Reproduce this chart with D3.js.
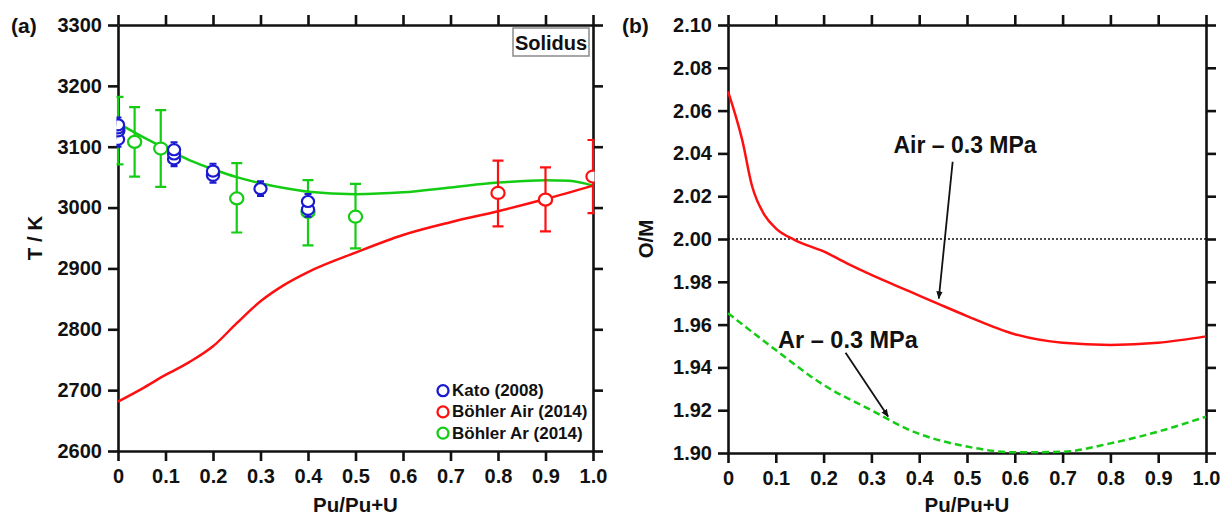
<!DOCTYPE html>
<html><head><meta charset="utf-8">
<script src="https://cdnjs.cloudflare.com/ajax/libs/d3/7.8.5/d3.min.js"></script>
<style>
html,body{margin:0;padding:0;background:#fff;}
svg{display:block;}
text{font-family:"Liberation Sans",Arial,sans-serif;font-weight:bold;fill:#111;}
</style></head>
<body>
<svg id="chart" width="1230" height="516"></svg>
<script>
// ---------- shared ticks ----------
const xTicks = [0,0.1,0.2,0.3,0.4,0.5,0.6,0.7,0.8,0.9,1.0];
const xTickLabels = ["0","0.1","0.2","0.3","0.4","0.5","0.6","0.7","0.8","0.9","1.0"];
const aYTicks = [2600,2700,2800,2900,3000,3100,3200,3300];
const bYTicks = [1.90,1.92,1.94,1.96,1.98,2.00,2.02,2.04,2.06,2.08,2.10];
const bYTickLabels = ["1.90","1.92","1.94","1.96","1.98","2.00","2.02","2.04","2.06","2.08","2.10"];

// ---------- panel (a) data ----------
const aArCurveX  = [0,0.05,0.1,0.15,0.2,0.25,0.3,0.35,0.4,0.5,0.6,0.7,0.8,0.9,0.95,1.0];
const aArCurveT  = [3139,3117,3097,3078,3063,3050,3040,3032,3026,3022,3025,3033,3041,3045,3044,3036];
const aAirCurveX = [0,0.05,0.1,0.15,0.2,0.25,0.3,0.35,0.4,0.5,0.6,0.7,0.8,0.9,1.0];
const aAirCurveT = [2681,2702,2725,2746,2772,2810,2846,2873,2894,2926,2955,2976,2994,3014,3036];

const katoX  = [0,0,0,0,0.118,0.118,0.118,0.2,0.2,0.3,0.4,0.4];
const katoT  = [3112,3126,3131,3136,3080,3088,3095,3053,3060,3031,2997,3010];
const katoErr = [12,12,12,12,12,12,12,12,12,12,12,12];

const arX   = [0,0.035,0.09,0.25,0.4,0.5];
const arT   = [3127,3108,3097,3015,2993,2985];
const arLo  = [3071,3051,3034,2959,2938,2933];
const arHi  = [3182,3165,3160,3073,3045,3039];

const airX  = [0.8,0.9,1.0];
const airT  = [3024,3013,3051];
const airLo = [2969,2961,2991];
const airHi = [3077,3066,3111];

const legendLabels = ["Kato (2008)","Böhler Air (2014)","Böhler Ar (2014)"];

// ---------- panel (b) data ----------
const bAirX  = [0,0.03,0.05,0.077,0.1,0.14,0.2,0.25,0.3,0.38,0.44,0.5,0.6,0.7,0.8,0.9,1.0];
const bAirOM = [2.069,2.046,2.025,2.011,2.005,1.9995,1.9942,1.9885,1.9832,1.9755,1.9697,1.964,1.9555,1.9515,1.9505,1.9515,1.9545];
const bArX   = [0,0.1,0.2,0.3,0.38,0.5,0.6,0.7,0.8,0.9,1.0];
const bArOM  = [1.9653,1.9481,1.9318,1.920,1.9107,1.903,1.9003,1.9006,1.9045,1.910,1.917];

// ---------- colours ----------
const RED = "#ff1010", GREEN = "#15cc15", BLUE = "#1a1ad0";

const svg = d3.select("#chart");
svg.append("rect").attr("width",1230).attr("height",516).attr("fill","#fff");

const defs = svg.append("defs");
defs.append("marker").attr("id","arrow").attr("markerUnits","userSpaceOnUse")
  .attr("viewBox","0 0 10 10").attr("refX",9).attr("refY",5)
  .attr("markerWidth",8).attr("markerHeight",8).attr("orient","auto")
  .append("path").attr("d","M0,1 L10,5 L0,9 Z").attr("fill","#111");

function makePanel(opt){
  const g = svg.append("g").attr("transform",`translate(${opt.left},${opt.top})`);
  const w = opt.right-opt.left, h = opt.bottom-opt.top;
  const x = d3.scaleLinear().domain([0,1]).range([0,w]);
  const y = d3.scaleLinear().domain(opt.yDomain).range([h,0]);
  const styleAxis = sel => {
    sel.select(".domain").attr("stroke","#111").attr("stroke-width",2.6);
    sel.selectAll(".tick line").attr("stroke","#111").attr("stroke-width",2.6);
    sel.selectAll(".tick text").style("font-size","20px").style("font-weight","bold")
      .style("font-family","'Liberation Sans',Arial,sans-serif").attr("fill","#111");
  };
  g.append("g").attr("transform",`translate(0,${h})`)
    .call(d3.axisBottom(x).tickValues(xTicks).tickFormat((d,i)=>xTickLabels[i]).tickSize(10).tickSizeOuter(0).tickPadding(8))
    .call(styleAxis);
  g.append("g")
    .call(d3.axisTop(x).tickValues(xTicks).tickFormat("").tickSize(10).tickSizeOuter(0))
    .call(styleAxis);
  g.append("g")
    .call(d3.axisLeft(y).tickValues(opt.yTicks).tickFormat((d,i)=>opt.yLabels[i]).tickSize(10).tickSizeOuter(0).tickPadding(6))
    .call(styleAxis);
  g.append("g").attr("transform",`translate(${w},0)`)
    .call(d3.axisRight(y).tickValues(opt.yTicks).tickFormat("").tickSize(10).tickSizeOuter(0))
    .call(styleAxis);
  // axis titles
  svg.append("text").attr("x",opt.left+w/2).attr("y",512).attr("text-anchor","middle")
    .style("font-size","20.5px").text("Pu/Pu+U");
  g.append("text").attr("transform",`translate(${opt.yTitleX},${h/2}) rotate(-90)`)
    .attr("text-anchor","middle").attr("dominant-baseline","central")
    .style("font-size","20.5px").text(opt.yTitle);
  svg.append("text").attr("x",opt.tagX).attr("y",33).style("font-size","21px").text(opt.tag);
  const clipId = "clip"+opt.tag.replace(/\W/g,"");
  defs.append("clipPath").attr("id",clipId).append("rect")
    .attr("x",-1.5).attr("y",-1.5).attr("width",w+3).attr("height",h+3);
  const data = g.append("g").attr("clip-path",`url(#${clipId})`);
  return {g,data,x,y,w,h};
}

// ---------- panel (a) ----------
const A = makePanel({left:118,right:593,top:25,bottom:451,yDomain:[2600,3300],
  yTicks:aYTicks,yLabels:aYTicks.map(String),yTitle:"T / K",yTitleX:-84,tag:"(a)",tagX:11});

const lineA = d3.line().curve(d3.curveMonotoneX).x(d=>A.x(d[0])).y(d=>A.y(d[1]));
A.data.append("path").datum(aArCurveX.map((v,i)=>[v,aArCurveT[i]]))
  .attr("d",lineA).attr("fill","none").attr("stroke",GREEN).attr("stroke-width",2.5);
A.data.append("path").datum(aAirCurveX.map((v,i)=>[v,aAirCurveT[i]]))
  .attr("d",lineA).attr("fill","none").attr("stroke",RED).attr("stroke-width",2.5);

function errPoints(panel, xs, ys, lo, hi, color, capHalf, r){
  const grp = panel.data.append("g");
  xs.forEach((xv,i)=>{
    const cx = panel.x(xv);
    grp.append("line").attr("x1",cx).attr("x2",cx).attr("y1",panel.y(lo[i])).attr("y2",panel.y(hi[i]))
      .attr("stroke",color).attr("stroke-width",2.2);
    [lo[i],hi[i]].forEach(v=>{
      grp.append("line").attr("x1",cx-capHalf).attr("x2",cx+capHalf).attr("y1",panel.y(v)).attr("y2",panel.y(v))
        .attr("stroke",color).attr("stroke-width",2.2);
    });
  });
  xs.forEach((xv,i)=>{
    grp.append("ellipse").attr("cx",panel.x(xv)).attr("cy",panel.y(ys[i])).attr("rx",r+0.6).attr("ry",r)
      .attr("fill","#fff").attr("stroke",color).attr("stroke-width",2.2);
  });
}
errPoints(A, arX, arT, arLo, arHi, GREEN, 5.5, 6);
errPoints(A, airX, airT, airLo, airHi, RED, 5.5, 6);
errPoints(A, katoX, katoT, katoT.map((v,i)=>v-katoErr[i]), katoT.map((v,i)=>v+katoErr[i]), BLUE, 3.5, 5.5);

// Solidus box
A.g.append("rect").attr("x",395).attr("y",3).attr("width",76).attr("height",28)
  .attr("fill","#fff").attr("stroke","#8a8a8a").attr("stroke-width",1.5);
A.g.append("text").attr("x",433).attr("y",24.5).attr("text-anchor","middle")
  .style("font-size","20px").text("Solidus");

// legend
const legColors = [BLUE, RED, GREEN];
legendLabels.forEach((lab,i)=>{
  const ly = 390.7 + i*21.2;
  svg.append("circle").attr("cx",443).attr("cy",ly).attr("r",5.5)
    .attr("fill","#fff").attr("stroke",legColors[i]).attr("stroke-width",2.3);
  svg.append("text").attr("x",452).attr("y",ly).attr("dominant-baseline","central")
    .style("font-size","17px").text(lab);
});

// ---------- panel (b) ----------
const B = makePanel({left:728,right:1206,top:25,bottom:453,yDomain:[1.90,2.10],
  yTicks:bYTicks,yLabels:bYTickLabels,yTitle:"O/M",yTitleX:-83,tag:"(b)",tagX:622});

B.data.append("line").attr("x1",0).attr("x2",B.w).attr("y1",B.y(2.0)).attr("y2",B.y(2.0))
  .attr("stroke","#111").attr("stroke-width",1.6).attr("stroke-dasharray","2,2");

const lineB = d3.line().curve(d3.curveMonotoneX).x(d=>B.x(d[0])).y(d=>B.y(d[1]));
B.data.append("path").datum(bAirX.map((v,i)=>[v,bAirOM[i]]))
  .attr("d",lineB).attr("fill","none").attr("stroke",RED).attr("stroke-width",2.5);
B.data.append("path").datum(bArX.map((v,i)=>[v,bArOM[i]]))
  .attr("d",lineB).attr("fill","none").attr("stroke",GREEN).attr("stroke-width",2.5)
  .attr("stroke-dasharray","7,4");

// annotations
B.g.append("text").attr("x",B.x(0.496)).attr("y",B.y(2.040)).attr("text-anchor","middle")
  .style("font-size","23px").text("Air – 0.3 MPa");
B.g.append("line").attr("x1",B.x(0.470)).attr("y1",B.y(2.0361)).attr("x2",B.x(0.441)).attr("y2",B.y(1.9722))
  .attr("stroke","#111").attr("stroke-width",1.8).attr("marker-end","url(#arrow)");
B.g.append("text").attr("x",B.x(0.251)).attr("y",B.y(1.949)).attr("text-anchor","middle")
  .style("font-size","23.5px").text("Ar – 0.3 MPa");
B.g.append("line").attr("x1",B.x(0.246)).attr("y1",B.y(1.9469)).attr("x2",B.x(0.335)).attr("y2",B.y(1.917))
  .attr("stroke","#111").attr("stroke-width",1.8).attr("marker-end","url(#arrow)");
</script>
</body></html>
